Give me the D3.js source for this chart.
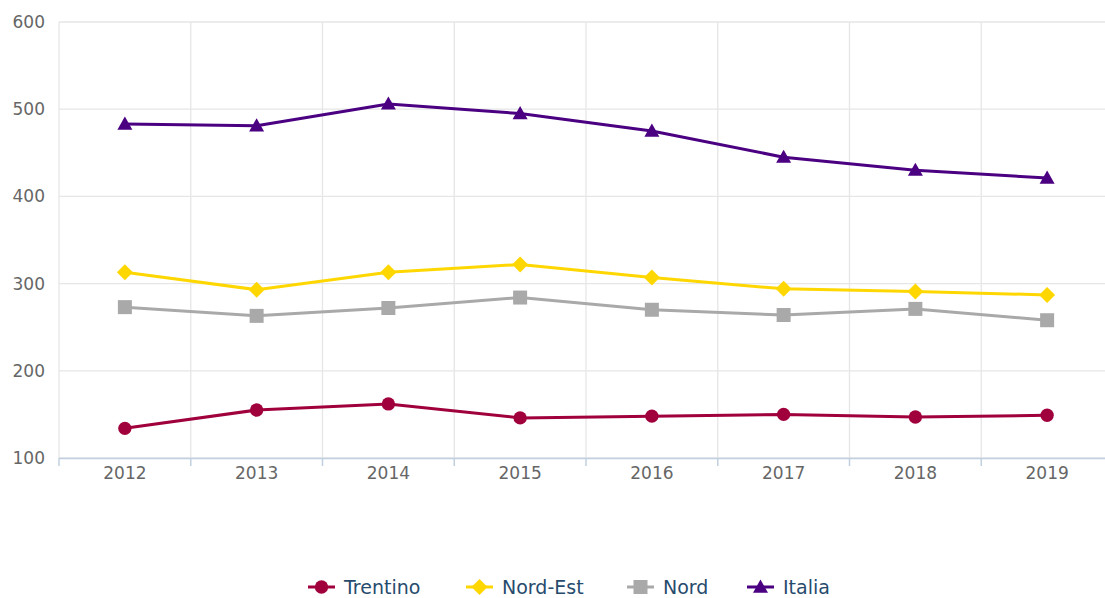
<!DOCTYPE html>
<html>
<head>
<meta charset="utf-8">
<script src="https://cdn.jsdelivr.net/npm/d3@7"></script>
<style>
  html, body { margin: 0; padding: 0; background: #ffffff; }
  svg { display: block; }
  text { font-family: "DejaVu Sans", Verdana, sans-serif; }
</style>
</head>
<body>
<svg id="chart" width="1105" height="598"></svg>
<script>
// Years on the category axis
const years = ["2012", "2013", "2014", "2015", "2016", "2017", "2018", "2019"];

// Series values, one per year
const trentino = [134, 155, 162, 146, 148, 150, 147, 149];
const nordEst  = [313, 293, 313, 322, 307, 294, 291, 287];
const nord     = [273, 263, 272, 284, 270, 264, 271, 258];
const italia   = [483, 481, 506, 495, 475, 445, 430, 421];

// Value-axis ticks
const yTicks = [100, 200, 300, 400, 500, 600];

const seriesNames  = ["Trentino", "Nord-Est", "Nord", "Italia"];
const seriesValues = [trentino, nordEst, nord, italia];
const seriesColors = ["#a0003c", "#ffd700", "#a9a9a9", "#4b0082"];
const seriesShapes = ["circle", "diamond", "square", "triangle"];

const svg = d3.select("#chart");

const plot = { left: 59, right: 1113, top: 22, bottom: 458 };

const x = d3.scaleBand().domain(years).range([plot.left, plot.right]);
const y = d3.scaleLinear().domain([100, 600]).range([plot.bottom, plot.top]);

// Horizontal grid lines
svg.append("g")
  .selectAll("line")
  .data(yTicks)
  .join("line")
  .attr("x1", plot.left).attr("x2", plot.right)
  .attr("y1", d => y(d)).attr("y2", d => y(d))
  .attr("stroke", "#e6e6e6").attr("stroke-width", 1.3);

// Vertical grid lines on category boundaries
const boundaries = years.map(d => x(d)).concat([x(years[years.length - 1]) + x.bandwidth()]);
svg.append("g")
  .selectAll("line")
  .data(boundaries)
  .join("line")
  .attr("x1", d => d).attr("x2", d => d)
  .attr("y1", plot.top).attr("y2", plot.bottom)
  .attr("stroke", "#e6e6e6").attr("stroke-width", 1.3);

// Value axis labels
const yAxis = d3.axisLeft(y).tickValues(yTicks).tickSize(0).tickPadding(14);
const gy = svg.append("g").attr("transform", `translate(${plot.left},0)`).call(yAxis);
gy.select(".domain").remove();
gy.selectAll("text")
  .attr("fill", "#666666")
  .attr("font-size", 17)
  .attr("font-family", "DejaVu Sans, Verdana, sans-serif");

// Category axis
const xAxis = d3.axisBottom(x).tickSize(0).tickPadding(9);
const gx = svg.append("g").attr("transform", `translate(0,${plot.bottom})`).call(xAxis);
gx.select(".domain").remove();
gx.selectAll("text")
  .attr("fill", "#666666")
  .attr("font-size", 17)
  .attr("font-family", "DejaVu Sans, Verdana, sans-serif");

svg.append("line")
  .attr("x1", plot.left).attr("x2", plot.right)
  .attr("y1", plot.bottom + 0.5).attr("y2", plot.bottom + 0.5)
  .attr("stroke", "#c0d0e0").attr("stroke-width", 1.5);

svg.append("g")
  .selectAll("line")
  .data(boundaries)
  .join("line")
  .attr("x1", d => d).attr("x2", d => d)
  .attr("y1", plot.bottom).attr("y2", plot.bottom + 8)
  .attr("stroke", "#c0d0e0").attr("stroke-width", 1.5);

// Marker path generator, centred at 0,0
function markerPath(shape) {
  if (shape === "circle") return d3.symbol(d3.symbolCircle, 140)();
  if (shape === "square") return d3.symbol(d3.symbolSquare, 196)();
  if (shape === "diamond") {
    const r = 8;
    return `M0,${-r}L${r},0L0,${r}L${-r},0Z`;
  }
  const w = 7.5;
  return `M0,${-w}L${w},${w * 0.75}L${-w},${w * 0.75}Z`;
}

const line = d3.line()
  .x((d, i) => x(years[i]) + x.bandwidth() / 2)
  .y(d => y(d));

seriesValues.forEach((vals, s) => {
  const g = svg.append("g");
  g.append("path")
    .datum(vals)
    .attr("d", line)
    .attr("fill", "none")
    .attr("stroke", seriesColors[s])
    .attr("stroke-width", 3)
    .attr("stroke-linejoin", "round");
  g.selectAll("path.marker")
    .data(vals)
    .join("path")
    .attr("class", "marker")
    .attr("d", markerPath(seriesShapes[s]))
    .attr("transform", (d, i) => `translate(${x(years[i]) + x.bandwidth() / 2},${y(d)})`)
    .attr("fill", seriesColors[s]);
});

// Legend
const legendX = [308, 466, 627, 747];
const legendY = 587;
const legend = svg.append("g");
seriesNames.forEach((name, s) => {
  const item = legend.append("g").attr("transform", `translate(${legendX[s]},${legendY})`);
  item.append("line")
    .attr("x1", 0).attr("x2", 27)
    .attr("y1", 0).attr("y2", 0)
    .attr("stroke", seriesColors[s]).attr("stroke-width", 3);
  item.append("path")
    .attr("d", markerPath(seriesShapes[s]))
    .attr("transform", "translate(13.5,0)")
    .attr("fill", seriesColors[s]);
  item.append("text")
    .attr("x", 36)
    .attr("y", 0)
    .attr("dy", "0.35em")
    .attr("font-size", 19)
    .attr("fill", "#274b6d")
    .text(name);
});
</script>
</body>
</html>
